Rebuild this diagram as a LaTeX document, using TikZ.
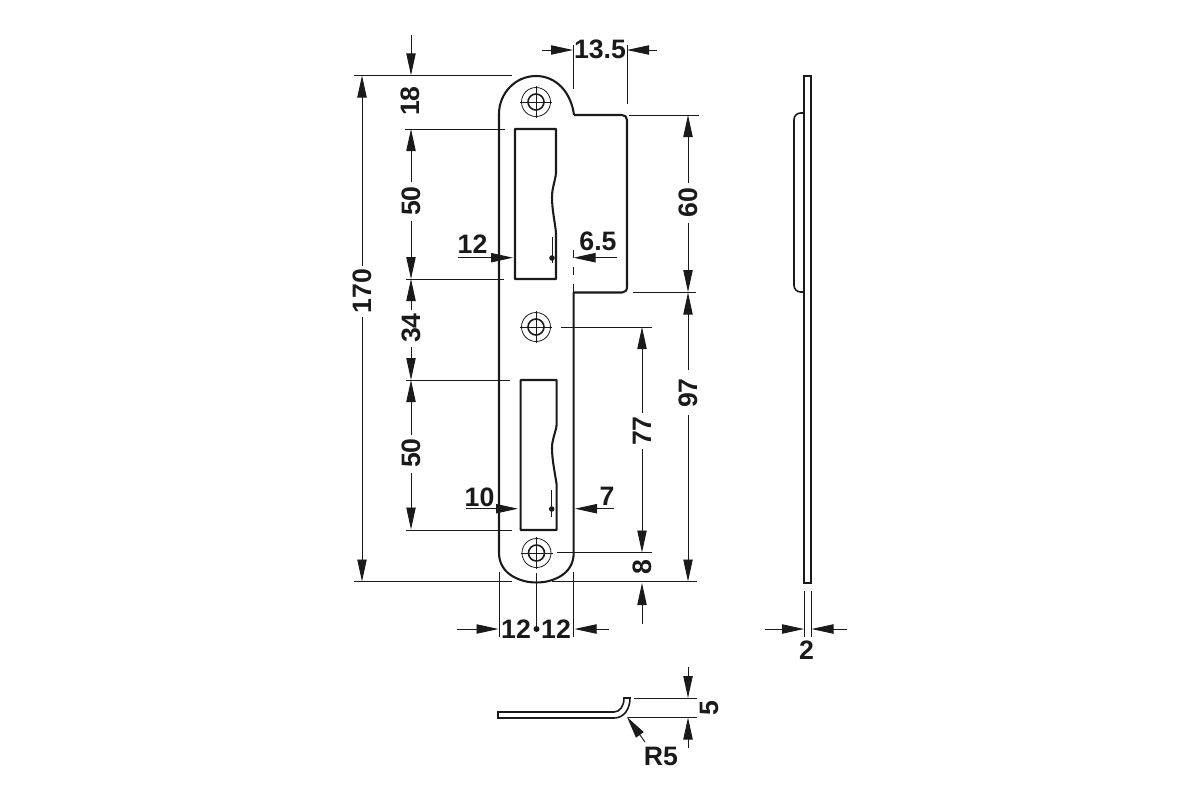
\documentclass[tikz,border=0pt]{standalone}
\usepackage{fontspec}
\setmainfont{Liberation Sans}
\usetikzlibrary{arrows.meta}
\definecolor{ink}{HTML}{1A1A1A}
\tikzset{
  body/.style={draw=ink,line width=1.55pt,line join=round},
  thinbody/.style={draw=ink,line width=1.2pt,line join=miter},
  ext/.style={draw=ink,line width=0.7pt},
  dim/.style={draw=ink,line width=0.7pt,-{Triangle[length=16.5pt,width=7pt]}},
  lab/.style={inner sep=0pt,text=ink,font=\fontsize{20}{20}\selectfont\bfseries},
  vlab/.style={lab,rotate=90},
}
\begin{document}
\begin{tikzpicture}[x=0.75pt,y=-0.75pt]
\useasboundingbox (0,0) rectangle (1200,800);
% plate outline
\draw[body] (574,115) -- (622,115) .. controls (625,115) and (627,117) .. (627,120)
  -- (627,287) .. controls (627,290.5) and (625,292.5) .. (622,292.5) -- (573.7,292.5)
  -- (573.7,553) .. controls (573.7,564) and (568,572) .. (560,576.5)
  .. controls (552,581) and (544,582.5) .. (536.5,582.5)
  .. controls (529,582.5) and (521,581) .. (513,576.5)
  .. controls (505,572) and (499,564) .. (499,553)
  -- (499,114) .. controls (499,93.3) and (515.3,76) .. (536,76)
  .. controls (556,76) and (571,92) .. (574,115);
% upper slot
\draw[body] (556,173) -- (556,129) -- (515,129) -- (515,279) -- (556,279) -- (556,233)
  .. controls (555,222) and (552,210) .. (552,197) .. controls (552,188) and (555,182) .. (556,173);
\draw[ext] (552,237) -- (552,263);
\fill[ink] (552,258) circle [radius=2.8];
% lower slot
\draw[body] (556.7,424) -- (556.7,380) -- (520.7,380) -- (520.7,530) -- (556.7,530) -- (556.7,485)
  .. controls (555,473) and (552,460) .. (552,448) .. controls (552,439) and (556,432) .. (556.7,424);
\draw[ext] (551.7,490) -- (551.7,517);
\fill[ink] (551.7,509) circle [radius=2.8];
% screw holes
\foreach \cx/\cy in {536/102,536/327,536.5/553}{
  \draw[ink,line width=0.6pt] (\cx,\cy) circle [radius=14.5];
  \draw[ink,line width=1.2pt] (\cx,\cy) circle [radius=8];
  \draw[ext] (\cx-16,\cy) -- (\cx+16,\cy) (\cx,\cy-16) -- (\cx,\cy+16);
}
% side view
\draw[thinbody] (804,75.7) rectangle (811,582.7);
\draw[thinbody,rounded corners=5pt] (804,113) -- (794,113) -- (794,292) -- (804,292);
% bottom view
\draw[thinbody] (498,712) -- (614,712) .. controls (620,712) and (624,706) .. (624,698)
  -- (630,698) .. controls (630,709) and (624,718) .. (614,718) -- (498,718) -- cycle;
% dashed edge
\draw[body,line width=1.1pt,dash pattern=on 6pt off 6.7pt] (573.7,250) -- (573.7,292.5);
% extension lines
\draw[ext] (354,75.3) -- (512,75.3);
\draw[ext] (354,581.7) -- (512,581.7);
\draw[ext] (552,581.7) -- (697,581.7);
\draw[ext] (405,129) -- (505,129);
\draw[ext] (406,279) -- (504,279);
\draw[ext] (406,380) -- (510,380);
\draw[ext] (406,530) -- (512,530);
\draw[ext] (573,45) -- (573,89);
\draw[ext] (627,45) -- (627,104);
\draw[ext] (629,115) -- (699,115);
\draw[ext] (633,292.5) -- (696,292.5);
\draw[ext] (561,327) -- (652,327);
\draw[ext] (557,552.5) -- (652,552.5);
\draw[ext] (499,572) -- (499,637);
\draw[ext] (573.7,572) -- (573.7,637);
\draw[ext] (536.5,573) -- (536.5,629);
\fill[ink] (536.5,629) circle [radius=3];
\draw[ext] (804.5,590.7) -- (804.5,637);
\draw[ext] (811,590.7) -- (811,637);
\draw[ext] (634,698) -- (697,698);
\draw[ext] (628,717.5) -- (697,717.5);
% left chain
\draw[dim] (362,266) -- (362,75.5);
\draw[dim] (362,317) -- (362,581.5);
\node[vlab] (l170) at (362,291) {170};
\draw[dim] (411,35) -- (411,75.3);
\node[vlab] (l18) at (410,101) {18};
\draw[dim] (411,182) -- (411,129);
\draw[dim] (411,221) -- (411,279);
\node[vlab] (l50a) at (411,201) {50};
\draw[dim] (411,310) -- (411,279);
\draw[dim] (411,347) -- (411,380);
\node[vlab] (l34) at (411,328) {34};
\draw[dim] (411,435) -- (411,380);
\draw[dim] (411,473) -- (411,529.5);
\node[vlab] (l50b) at (411,453) {50};
% slot dimensions
\draw[dim] (458,257.7) -- (513,257.7);
\node[lab] (l12a) at (472.5,244) {12};
\draw[dim] (617,257.7) -- (573.5,257.7);
\node[lab] (l65) at (598,241) {6.5};
\draw[dim] (466,508.7) -- (518,508.7);
\node[lab] (l10) at (479.5,497) {10};
\draw[dim] (614,508.7) -- (575,508.7);
\node[lab] (l7) at (607,496) {7};
% top
\draw[dim] (542,50) -- (573,50);
\draw[dim] (657,50) -- (627,50);
\node[lab] (l135) at (600,49) {13.5};
% right
\draw[dim] (688,183) -- (688,115);
\draw[dim] (688,223) -- (688,292);
\node[vlab] (l60) at (688,202.5) {60};
\draw[dim] (688,370) -- (688,292.5);
\draw[dim] (688,415) -- (688,581.5);
\node[vlab] (l97) at (688,393) {97};
\draw[dim] (642,413) -- (642,327);
\draw[dim] (642,449) -- (642,552.5);
\node[vlab] (l77) at (642,431) {77};
\draw[dim] (642,624) -- (642,583);
\node[vlab] (l8) at (642,567) {8};
% bottom
\draw[dim] (457,629) -- (498.5,629);
\draw[dim] (609,629) -- (574.5,629);
\node[lab] (l12b) at (516,629.5) {12};
\node[lab] (l12c) at (556,629.5) {12};
\draw[dim] (765,629) -- (804,629);
\draw[dim] (847,629) -- (811.5,629);
\node[lab] (l2) at (806.5,650) {2};
% bottom view dimensions
\draw[dim] (688,667) -- (688,698);
\draw[dim] (688,748) -- (688,717.5);
\node[vlab] (l5) at (709,708) {5};
\draw[dim] (645,742) -- (627,717);
\node[lab] (lr5) at (661,756) {R5};
\end{tikzpicture}
\end{document}
